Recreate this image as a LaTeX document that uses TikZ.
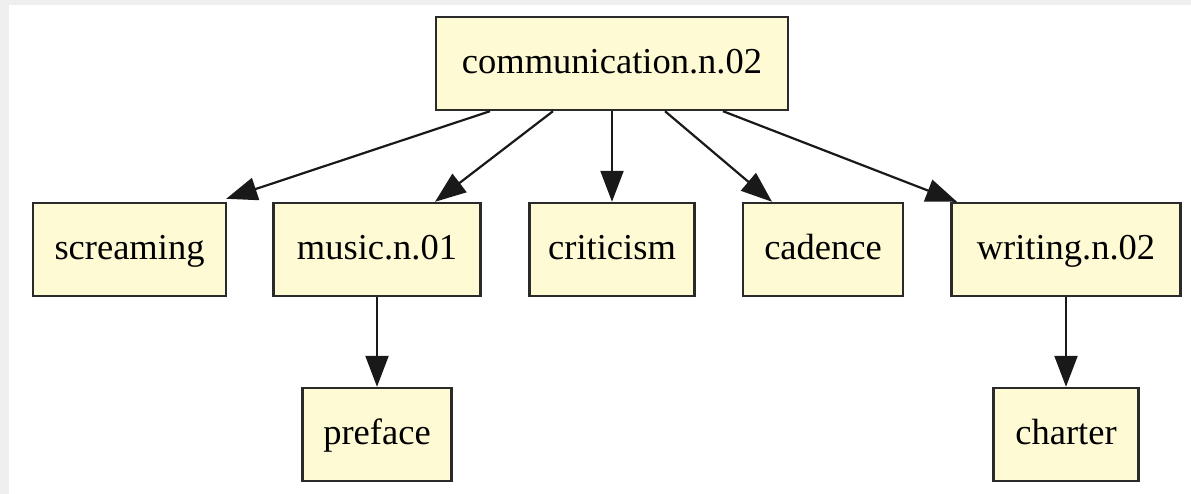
\documentclass[tikz,border=0pt]{standalone}
\usepackage{fontspec}
\setmainfont{Liberation Serif}
\usepackage{xcolor}
\usetikzlibrary{arrows.meta}
\definecolor{synset-fill}{HTML}{FEFAD3}
\definecolor{synset-line}{HTML}{2A2A2A}
\definecolor{page-grey}{HTML}{EFEFEF}
\tikzset{
    synset-box/.style = {draw=synset-line, fill=synset-fill, line width=2.4pt, rectangle, minimum height=93pt, inner sep=0pt, text height=26pt, text depth=6pt, font=\fontsize{36.5}{40}\selectfont},
    hypo-arrow/.style = {draw=black!90, line width=2.2pt, -{Triangle[length=31pt,width=23pt]}},
}

\begin{document}
\begin{tikzpicture}[x=1pt,y=-1pt]
\fill[page-grey] (0,0) rectangle (1191,494);
\useasboundingbox (0,0) rectangle (1191,494);
\fill[white] (9,5) rectangle (1191,494);
% top synset
\node[synset-box, minimum width=352pt] (comm) at (612,63.5) {communication.n.02};
% hyponyms
\node[synset-box, minimum width=193pt] (scream) at (129.5,249.5) {screaming};
\node[synset-box, minimum width=207pt] (music) at (377,249.5) {music.n.01};
\node[synset-box, minimum width=165pt] (crit) at (612,249.5) {criticism};
\node[synset-box, minimum width=160pt] (cad) at (823,249.5) {cadence};
\node[synset-box, minimum width=229pt] (writ) at (1066,249.5) {writing.n.02};
\node[synset-box, minimum width=149pt] (pref) at (377,434.5) {preface};
\node[synset-box, minimum width=145pt] (chart) at (1066,434.5) {charter};
% edges
\draw[hypo-arrow] ([xshift=-122pt]comm.south) -- ([xshift=-1pt,yshift=3pt]scream.north east);
\draw[hypo-arrow] ([xshift=-59pt]comm.south) -- ([xshift=58pt]music.north);
\draw[hypo-arrow] (comm.south) -- (crit.north);
\draw[hypo-arrow] ([xshift=53pt]comm.south) -- ([xshift=-51pt]cad.north);
\draw[hypo-arrow] ([xshift=111pt]comm.south) -- ([xshift=-109pt]writ.north);
\draw[hypo-arrow] (music.south) -- (pref.north);
\draw[hypo-arrow] (writ.south) -- (chart.north);
\end{tikzpicture}
\end{document}
